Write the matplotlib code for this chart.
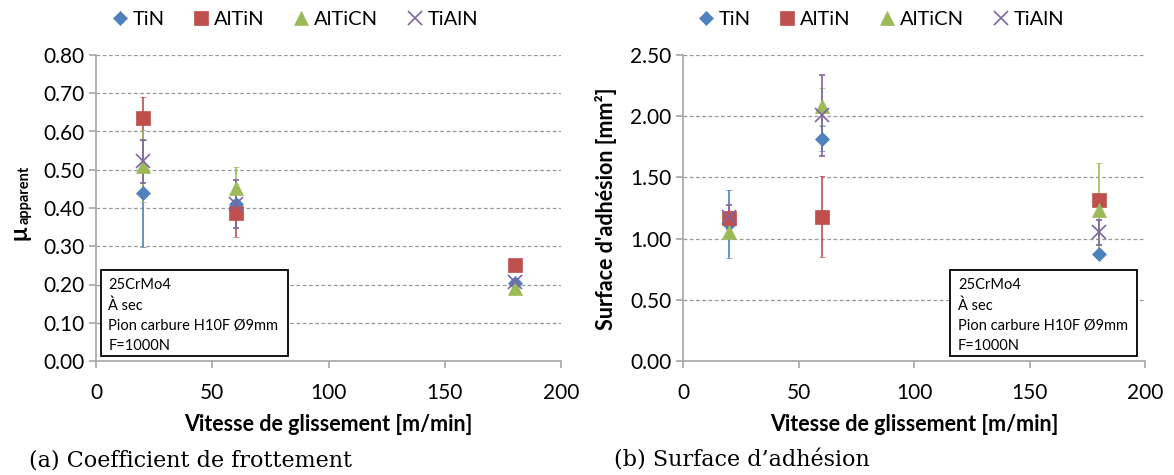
import numpy as np
import matplotlib
matplotlib.use("Agg")
import matplotlib.pyplot as plt
from matplotlib.patches import Rectangle

plt.rcParams['font.family'] = ['Lato', 'DejaVu Sans']

# Data
vitesse = [20, 60, 180]
coatings = ["TiN", "AlTiN", "AlTiCN", "TiAlN"]

# (a) apparent friction coefficient
mu_tin = [0.438, 0.410, 0.205]
mu_tin_err = [0.140, 0.030, 0.010]
mu_altin = [0.635, 0.386, 0.252]
mu_altin_err = [0.056, 0.063, 0.0]
mu_alticn = [0.510, 0.451, 0.190]
mu_alticn_err = [0.094, 0.055, 0.0]
mu_tialn = [0.522, 0.410, 0.207]
mu_tialn_err = [0.056, 0.062, 0.0]

# (b) adhesion surface [mm2]
s_tin = [1.118, 1.817, 0.875]
s_tin_err = [0.275, 0.10, 0.03]
s_altin = [1.172, 1.180, 1.317]
s_altin_err = [0.05, 0.333, 0.0]
s_alticn = [1.057, 2.082, 1.235]
s_alticn_err = [0.05, 0.15, 0.385]
s_tialn = [1.177, 2.006, 1.050]
s_tialn_err = [0.098, 0.328, 0.100]

colors = ["#4F81BD", "#C0504D", "#9BBB59", "#8064A2"]
markers = ["D", "s", "^", "x"]
msizes = [7, 9.5, 9.5, 9.5]

box_text = "25CrMo4\nÀ sec\nPion carbure H10F Ø9mm\nF=1000N"
gray = "#A6A6A6"

fig = plt.figure(figsize=(11.74, 4.75), dpi=100)
ax1 = fig.add_axes([96 / 1174, 114 / 475, 465 / 1174, 306 / 475])
ax2 = fig.add_axes([683 / 1174, 114 / 475, 462 / 1174, 306 / 475])


def draw(ax, series, errs, ymax, ystep):
    for vals, err, c, m, ms, name in zip(series, errs, colors, markers, msizes, coatings):
        ax.errorbar(vitesse, vals, yerr=err, fmt=m, color=c, ms=ms,
                    mew=1.2 if m == "x" else 0.5, ecolor=c, elinewidth=1.2,
                    capsize=2, capthick=1.2, label=name)
    ax.set_xlim(0, 200)
    ax.set_ylim(0, ymax)
    ax.set_xticks([0, 50, 100, 150, 200])
    ax.set_yticks(np.arange(0, ymax + 1e-9, ystep))
    ax.yaxis.set_major_formatter(matplotlib.ticker.FormatStrFormatter('%.2f'))
    ax.grid(axis='y', color='#999999', linestyle=(0, (3, 2)), linewidth=0.9)
    ax.set_axisbelow(True)
    for s in ['top', 'right']:
        ax.spines[s].set_visible(False)
    for s in ['left', 'bottom']:
        ax.spines[s].set_color(gray)
        ax.spines[s].set_linewidth(1.2)
    ax.tick_params(axis='both', colors=gray, labelcolor='black', labelsize=15,
                   length=5, width=1.2, direction='out')
    ax.tick_params(axis='x', pad=11)
    ax.set_xlabel("Vitesse de glissement [m/min]", fontsize=15.5, fontweight='bold', labelpad=8)


draw(ax1, [mu_tin, mu_altin, mu_alticn, mu_tialn],
     [mu_tin_err, mu_altin_err, mu_alticn_err, mu_tialn_err], 0.8, 0.1)
draw(ax2, [s_tin, s_altin, s_alticn, s_tialn],
     [s_tin_err, s_altin_err, s_alticn_err, s_tialn_err], 2.5, 0.5)

# legends without error bars
for cx in [293 / 1174, 879 / 1174]:
    lh = [plt.Line2D([], [], linestyle='none', marker=m, color=c, ms=ms,
                     mew=1.2 if m == "x" else 0.5)
          for c, m, ms in zip(colors, markers, msizes)]
    fig.legend(lh, coatings, loc='center', bbox_to_anchor=(cx, 0.958), ncol=4,
               frameon=False, fontsize=14.5, handletextpad=0.05, columnspacing=1.2,
               handlelength=1.2)

# y labels
fig.text(19 / 1174, 1 - 233 / 475, "μ", rotation=90, fontsize=17, fontweight='bold',
         ha='center', va='center')
fig.text(25 / 1174, 1 - 195 / 475, "apparent", rotation=90, fontsize=10.5, fontweight='bold',
         ha='center', va='center')
fig.text(606 / 1174, 1 - 209 / 475, "Surface d'adhésion [mm²]", rotation=90, fontsize=15.5,
         fontweight='bold', ha='center', va='center')

# info boxes
for ax, x0, x1 in [(ax1, 0.0097, 0.413), (ax2, 0.578, 0.983)]:
    ax.add_patch(Rectangle((x0, 0.016), x1 - x0, 0.281, transform=ax.transAxes,
                           facecolor='white', edgecolor='black', linewidth=1.3,
                           zorder=5, clip_on=False))
    ax.text(x0 + 0.017, 0.297 - 0.025, box_text, transform=ax.transAxes, fontsize=10.5,
            va='top', ha='left', linespacing=1.55, zorder=6)

# captions
fig.text(29 / 1174, 1 - 460 / 475, "(a) Coefficient de frottement", fontsize=16,
         family='DejaVu Serif', va='center', ha='left')
fig.text(614 / 1174, 1 - 460 / 475, "(b) Surface d\u2019adhésion", fontsize=16,
         family='DejaVu Serif', va='center', ha='left')

fig.savefig("out.png", dpi=100)
